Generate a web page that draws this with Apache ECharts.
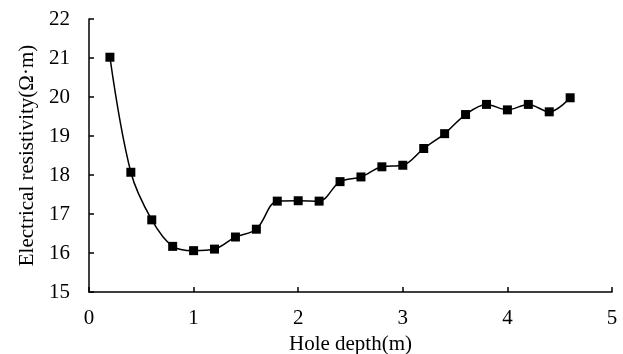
<!DOCTYPE html>
<html><head><meta charset="utf-8">
<script src="https://cdn.jsdelivr.net/npm/echarts@6/dist/echarts.min.js"></script>
<style>html,body{margin:0;padding:0;background:#fff}#c{width:623px;height:354px}</style>
</head><body><div id="c"></div>
<script>
const depth = [0.2,0.4,0.6,0.8,1.0,1.2,1.4,1.6,1.8,2.0,2.2,2.4,2.6,2.8,3.0,3.2,3.4,3.6,3.8,4.0,4.2,4.4,4.6];
const resistivity = [21.02,18.07,16.85,16.17,16.06,16.10,16.41,16.61,17.33,17.34,17.33,17.83,17.95,18.21,18.25,18.68,19.06,19.55,19.81,19.67,19.81,19.62,19.98];
const xName = 'Hole depth(m)';
const yName = 'Electrical resistivity(Ω·m)';
const chart = echarts.init(document.getElementById('c'));
const font = 'Liberation Serif';
const axisCommon = {
  axisLine:{show:true,lineStyle:{color:'#000',width:1.5}},
  axisTick:{show:true,inside:true,length:5,lineStyle:{color:'#000',width:1.5}},
  splitLine:{show:false},
  axisLabel:{color:'#000',fontFamily:font,fontSize:21},
  nameTextStyle:{color:'#000',fontFamily:font,fontSize:21},
  nameLocation:'middle'
};
chart.setOption({
  animation:false,
  grid:{left:89,right:11,top:19,bottom:62,containLabel:false,outerBoundsMode:'none'},
  xAxis:Object.assign({},axisCommon,{type:'value',min:0,max:5,interval:1,name:xName,nameGap:40,
    axisLabel:Object.assign({},axisCommon.axisLabel,{margin:16})}),
  yAxis:Object.assign({},axisCommon,{type:'value',min:15,max:22,interval:1,name:yName,nameGap:51,
    axisLabel:Object.assign({},axisCommon.axisLabel,{margin:19})}),
  series:[{type:'line',data:depth.map((d,i)=>[d,resistivity[i]]),smooth:0.35,
    symbol:'rect',symbolSize:9,lineStyle:{color:'#000',width:1.5},itemStyle:{color:'#000'}}]
});
</script></body></html>
